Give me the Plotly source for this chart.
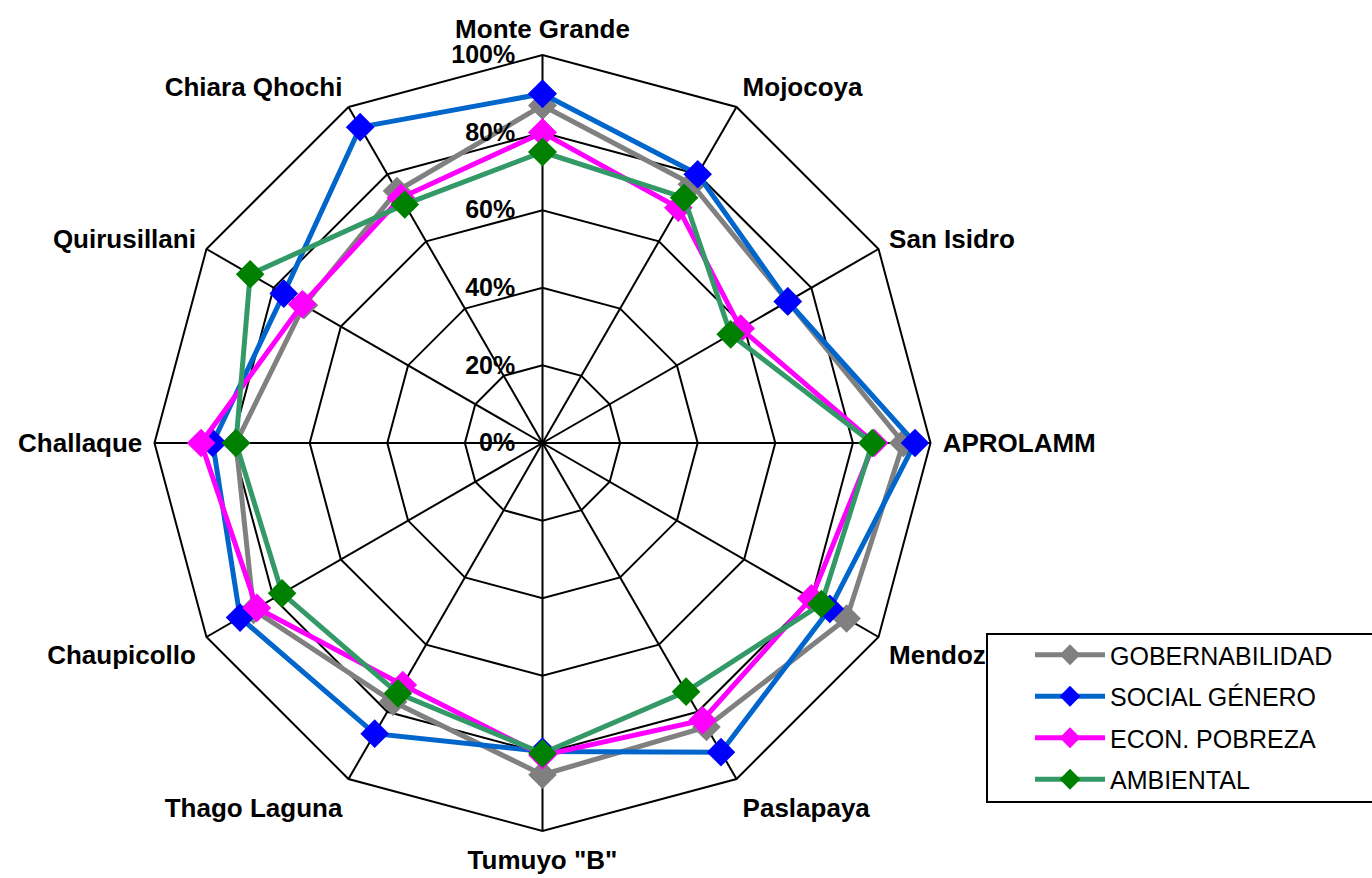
import plotly.graph_objects as go

# Communities (clockwise from the top)
categories = ["Monte Grande", "Mojocoya", "San Isidro", "APROLAMM", "Mendoza",
              "Paslapaya", 'Tumuyo "B"', "Thago Laguna", "Chaupicollo",
              "Challaque", "Quirusillani", "Chiara Qhochi"]

# Scores per dimension (share of 1.0)
gobernabilidad = [0.87, 0.77, 0.73, 0.93, 0.905, 0.845, 0.855, 0.77, 0.86, 0.79, 0.71, 0.75]
social_genero  = [0.90, 0.80, 0.73, 0.96, 0.855, 0.92, 0.795, 0.865, 0.90, 0.85, 0.77, 0.94]
econ_pobreza   = [0.80, 0.70, 0.59, 0.855, 0.80, 0.825, 0.805, 0.72, 0.85, 0.88, 0.715, 0.73]
ambiental      = [0.75, 0.73, 0.56, 0.85, 0.83, 0.74, 0.80, 0.745, 0.775, 0.79, 0.87, 0.71]

radial_ticks = [0, 0.2, 0.4, 0.6, 0.8, 1.0]

series = [
    ("GOBERNABILIDAD", gobernabilidad, "#808080", "#808080"),
    ("SOCIAL GÉNERO", social_genero, "#0066CC", "#0000FF"),
    ("ECON. POBREZA", econ_pobreza, "#FF00FF", "#FF00FF"),
    ("AMBIENTAL", ambiental, "#339966", "#008000"),
]

FONT = "Liberation Sans, Arial, sans-serif"
W, H = 1372, 878

fig = go.Figure()
for i, (name, vals, line_col, mk_col) in enumerate(series):
    fig.add_trace(go.Scatterpolar(
        r=vals + vals[:1],
        theta=categories + categories[:1],
        mode="lines+markers",
        name=name,
        legendgroup=f"g{i}",
        line=dict(color=line_col, width=5),
        marker=dict(symbol="diamond", size=22, color=mk_col),
    ))

# Legend frame (runs off the right edge of the canvas)
fig.add_shape(
    type="rect", xref="paper", yref="paper", layer="above",
    x0=987 / W, x1=1400 / W, y0=(H - 802) / H, y1=(H - 634) / H,
    fillcolor="white", line=dict(color="black", width=2),
)

fig.update_layout(
    width=W,
    height=H,
    margin=dict(l=0, r=0, t=0, b=0),
    paper_bgcolor="white",
    plot_bgcolor="white",
    font=dict(family=FONT, color="black"),
    polar=dict(
        domain=dict(x=[154.5 / W, 930.5 / W], y=[47 / H, 823 / H]),
        bgcolor="white",
        gridshape="linear",
        angularaxis=dict(
            rotation=90,
            direction="clockwise",
            showline=True,
            linecolor="black",
            linewidth=2,
            gridcolor="black",
            gridwidth=1.5,
            ticks="outside",
            ticklen=6,
            tickcolor="rgba(0,0,0,0)",
            tickfont=dict(family=FONT, size=26, weight="bold", color="black"),
        ),
        radialaxis=dict(
            range=[0, 1],
            angle=90,
            side="counterclockwise",
            tickangle=90,
            tickvals=radial_ticks,
            tickformat=".0%",
            showline=False,
            ticks="outside",
            ticklen=18,
            tickcolor="rgba(0,0,0,0)",
            gridcolor="black",
            gridwidth=1.5,
            tickfont=dict(family=FONT, size=25, weight="bold", color="black"),
        ),
    ),
    legend=dict(
        x=1030 / W,
        y=(H - 632) / H,
        xanchor="left",
        yanchor="top",
        bgcolor="rgba(0,0,0,0)",
        borderwidth=0,
        font=dict(family=FONT, size=25, color="black"),
        traceorder="grouped",
        tracegroupgap=6,
        itemwidth=70,
    ),
    showlegend=True,
)

fig.write_html("out.html")
